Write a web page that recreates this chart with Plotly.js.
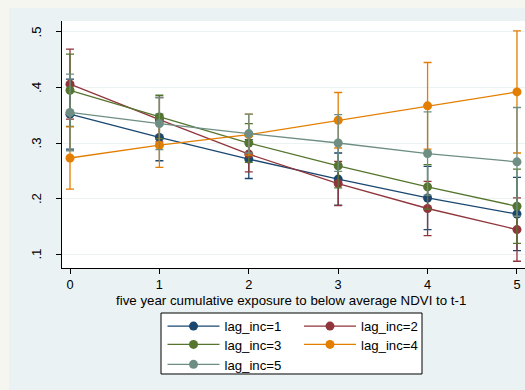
<!DOCTYPE html>
<html><head><meta charset="utf-8">
<script src="https://cdn.plot.ly/plotly-3.0.1.min.js"></script>
<style>
html,body{margin:0;padding:0;width:525px;height:390px;overflow:hidden;background:#f6f6f0;}
#chart{position:absolute;left:9px;top:8px;width:530px;height:400px;}
</style></head><body><div id="chart"></div>
<script>
// exposure values on the x axis
const exposure = [0, 1, 2, 3, 4, 5];
// series names
const names = ['lag_inc=1', 'lag_inc=2', 'lag_inc=3', 'lag_inc=4', 'lag_inc=5'];
// point estimates
const lag1 = [0.352, 0.310, 0.271, 0.235, 0.201, 0.172];
const lag2 = [0.406, 0.342, 0.280, 0.227, 0.182, 0.144];
const lag3 = [0.395, 0.347, 0.300, 0.259, 0.221, 0.186];
const lag4 = [0.273, 0.296, 0.315, 0.341, 0.367, 0.392];
const lag5 = [0.355, 0.335, 0.317, 0.300, 0.281, 0.266];
// confidence interval half-widths
const lag1_ci = [0.063, 0.042, 0.035, 0.047, 0.057, 0.066];
const lag2_ci = [0.063, 0.040, 0.032, 0.040, 0.049, 0.057];
const lag3_ci = [0.065, 0.039, 0.035, 0.040, 0.040, 0.067];
const lag4_ci = [0.056, 0.040, 0.037, 0.050, 0.078, 0.110];
const lag5_ci = [0.069, 0.047, 0.035, 0.051, 0.075, 0.098];
// y tick labels
const yTickVals = [0.1, 0.2, 0.3, 0.4, 0.5];
const yTickText = ['.1', '.2', '.3', '.4', '.5'];
const xTitle = 'five year cumulative exposure to below average NDVI to t-1';

const colors = ['#1a476f', '#90353b', '#55752f', '#e37e00', '#6e8e84'];
const ys = [lag1, lag2, lag3, lag4, lag5];
const cis = [lag1_ci, lag2_ci, lag3_ci, lag4_ci, lag5_ci];
const legendIds = ['legend', 'legend2', 'legend3', 'legend4', 'legend5'];

const traces = ys.map((y, i) => ({
  type: 'scatter', mode: 'lines+markers', x: exposure, y: y, name: names[i],
  legend: legendIds[i],
  line: {color: colors[i], width: 1.3},
  marker: {color: colors[i], size: 9},
  error_y: {type: 'data', array: cis[i], visible: true, color: colors[i], thickness: 1.3, width: 4}
}));

const font = {family: '"Liberation Sans", Arial, sans-serif', color: '#000'};
const legendCommon = {
  bgcolor: 'rgba(0,0,0,0)', borderwidth: 0, orientation: 'v',
  font: Object.assign({size: 13.2}, font), itemwidth: 52,
  xanchor: 'left', yanchor: 'top', traceorder: 'normal', itemclick: false
};
// legend grid: two columns, three rows (paper coordinates)
const legCol = [0.2143, 0.5053];
const legRow = [-0.1741, -0.2482, -0.3291];

const layout = {
  width: 530, height: 400,
  margin: {l: 53, r: 8, t: 13, b: 140},
  paper_bgcolor: '#eaf2f3', plot_bgcolor: '#ffffff',
  font: font,
  showlegend: true,
  xaxis: {
    range: [-0.0895, 5.157], tickvals: exposure, ticks: 'outside', ticklen: 5, tickcolor: '#000',
    showline: true, linecolor: '#000', linewidth: 1, showgrid: false, zeroline: false,
    tickfont: Object.assign({size: 12.8}, font), ticklabelstandoff: 0
  },
  yaxis: {
    range: [0.0748, 0.5198], tickvals: yTickVals, ticktext: yTickText, tickangle: -90,
    ticks: 'outside', ticklen: 5, tickcolor: '#000',
    showline: true, linecolor: '#000', linewidth: 1, showgrid: true, gridcolor: '#eaf2f3', gridwidth: 1,
    zeroline: false, tickfont: Object.assign({size: 13.3}, font), ticklabelstandoff: 10, ticklabelshift: 2
  },
  annotations: [{text: xTitle, xref: 'paper', yref: 'paper', x: 0.4893, y: -0.1336,
    xanchor: 'center', yanchor: 'middle', showarrow: false, font: Object.assign({size: 13.3}, font)}],
  shapes: [{type: 'rect', xref: 'paper', yref: 'paper', x0: 0.2111, x1: 0.7676, y0: -0.4291, y1: -0.1822,
    line: {color: '#000', width: 1}, fillcolor: '#ffffff', layer: 'below'}]
};
legendIds.forEach((id, i) => {
  layout[id] = Object.assign({}, legendCommon, {x: legCol[i % 2], y: legRow[Math.floor(i / 2)]});
});

Plotly.newPlot('chart', traces, layout, {staticPlot: true, displayModeBar: false});
</script></body></html>
